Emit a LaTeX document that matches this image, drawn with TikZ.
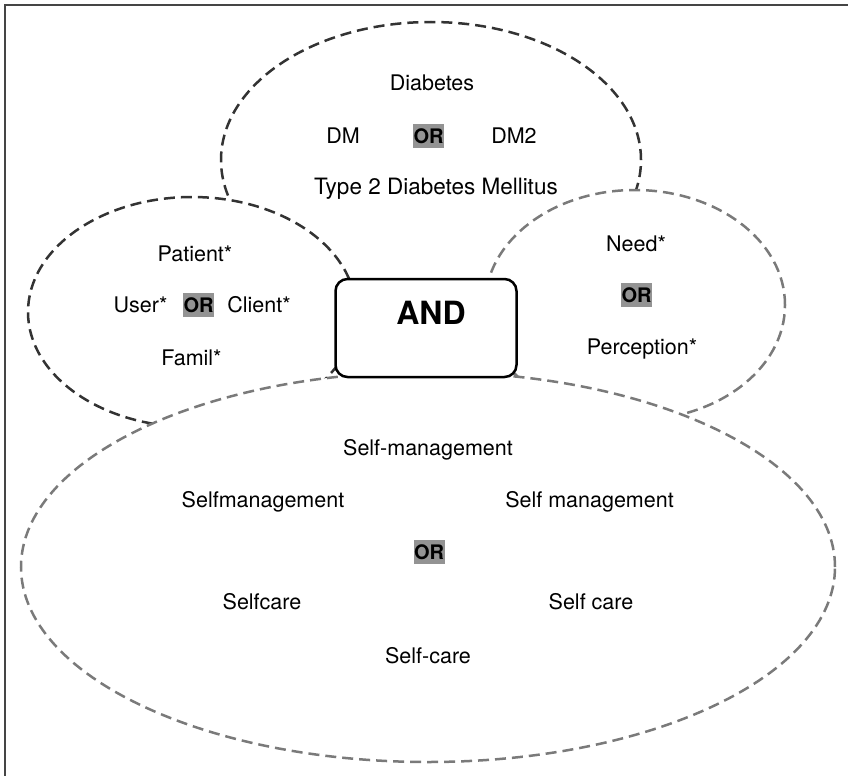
\documentclass[tikz,border=0pt]{standalone}
\usepackage{fontspec}
\setmainfont{TeX Gyre Heros}
\usetikzlibrary{shapes.geometric}
\definecolor{darkline}{HTML}{333333}
\definecolor{greyline}{HTML}{7A7A7A}
\definecolor{orfill}{HTML}{939393}
\definecolor{framegrey}{HTML}{454545}
\tikzset{
  setring/.style={ellipse, fill=white, line width=2.5pt, dash pattern=on 11pt off 6pt, inner sep=0pt},
  term/.style={font=\fontsize{21.5pt}{24pt}\selectfont, inner sep=0pt, text height=15.4pt, text depth=0pt},
  orbox/.style={fill=orfill, font=\fontsize{20pt}{24pt}\selectfont\bfseries, inner xsep=0.5pt, inner ysep=5pt, text height=14.4pt, text depth=0pt},
  andbox/.style={draw, fill=white, line width=2.5pt, rounded corners=12pt, minimum width=181pt, minimum height=98pt},
}
\begin{document}
\begin{tikzpicture}[x=1pt, y=-1pt]
\useasboundingbox (0, 0) rectangle (848, 776);
\draw [line width=1.8pt, framegrey] (848, 5) -- (5, 5) -- (5, 776);

\node (diabset) at (431, 160) [setring, draw=darkline, minimum width=420pt, minimum height=276pt] {};
\node (patset) at (192, 312) [setring, draw=darkline, minimum width=328pt, minimum height=230pt] {};
\node (needset) at (635, 305) [setring, draw=greyline, minimum width=300pt, minimum height=230pt] {};
\node (selfset) at (428, 567) [setring, draw=greyline, minimum width=814pt, minimum height=390pt] {};

\node (andnode) at (426, 328) [andbox] {};
\node (andlabel) at (431, 313) [term, font=\fontsize{32pt}{36pt}\selectfont\bfseries, text height=23pt] {AND};

\node (diab) at (432, 82.5) [term] {Diabetes};
\node (dm) at (343, 136) [term] {DM};
\node (ordiab) at (428.5, 136) [orbox] {OR};
\node (dmtwo) at (514, 136) [term] {DM2};
\node (typetwo) at (436, 187) [term, font=\fontsize{22.5pt}{24pt}\selectfont] {Type 2 Diabetes Mellitus};

\node (patient) at (195, 254) [term] {Patient*};
\node (user) at (140.5, 305) [term] {User*};
\node (orpat) at (198.5, 305) [orbox] {OR};
\node (client) at (259, 305) [term] {Client*};
\node (famil) at (191.5, 358) [term] {Famil*};

\node (need) at (636, 244) [term] {Need*};
\node (orneed) at (636.5, 295) [orbox] {OR};
\node (perception) at (642, 347) [term] {Perception*};

\node (selfdash) at (428, 448) [term] {Self-management};
\node (selfjoin) at (263, 500) [term] {Selfmanagement};
\node (selfspace) at (589.5, 500) [term] {Self management};
\node (orself) at (429, 552) [orbox] {OR};
\node (carejoin) at (262, 602) [term] {Selfcare};
\node (carespace) at (591, 602) [term] {Self care};
\node (caredash) at (428, 656) [term] {Self-care};
\end{tikzpicture}
\end{document}
